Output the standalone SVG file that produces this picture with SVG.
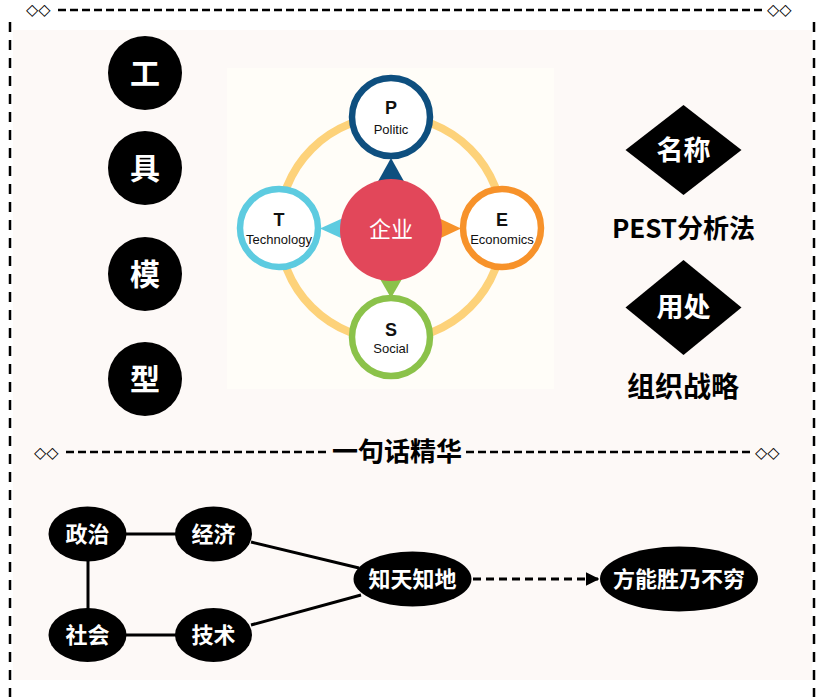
<svg xmlns="http://www.w3.org/2000/svg" width="828" height="697" viewBox="0 0 828 697">
<style>
.cjk{font-family:"Noto Sans CJK SC","Liberation Sans",sans-serif;font-weight:700;}
.wt{fill:#ffffff;}
.bk{fill:#000000;}
.dash{stroke:#000;stroke-width:2.5;stroke-dasharray:8 4;fill:none;}
.vdash{stroke:#000;stroke-width:2.5;stroke-dasharray:10 8;fill:none;}
.sym{font-family:"DejaVu Sans",sans-serif;font-size:16px;fill:#000;}
.conn{stroke:#000;stroke-width:3;fill:none;}
.lat{font-family:"Liberation Sans",Arial,sans-serif;fill:#111;text-anchor:middle;}
</style>
<defs>
<marker id="ah" viewBox="0 0 10 10" refX="9" refY="5" markerWidth="4.5" markerHeight="4.5" orient="auto" markerUnits="strokeWidth">
<path d="M0,0 L10,5 L0,10 z" fill="#000"/>
</marker>
</defs>
<rect x="0" y="0" width="828" height="697" fill="#ffffff"/>
<rect x="13" y="30" width="799" height="650" fill="#fdf9f7"/>
<!-- frame -->
<g id="frame">
<text class="sym" x="26" y="15">◇◇</text>
<line class="dash" x1="58" y1="10" x2="763" y2="10"/>
<text class="sym" x="767" y="15">◇◇</text>
<line class="vdash" x1="10" y1="22" x2="10" y2="697"/>
<line class="vdash" x1="814" y1="22" x2="814" y2="697"/>
</g>
<!-- left circles -->
<g id="c-gong"><circle cx="145" cy="73" r="37" class="bk"/><text x="145" y="84" class="cjk wt" font-size="30" text-anchor="middle">工</text></g>
<g id="c-ju"><circle cx="145" cy="168" r="37" class="bk"/><text x="145" y="179" class="cjk wt" font-size="30" text-anchor="middle">具</text></g>
<g id="c-mo"><circle cx="145" cy="274" r="37" class="bk"/><text x="145" y="285" class="cjk wt" font-size="30" text-anchor="middle">模</text></g>
<g id="c-xing"><circle cx="145" cy="379" r="37" class="bk"/><text x="145" y="390" class="cjk wt" font-size="30" text-anchor="middle">型</text></g>
<!-- PEST figure -->
<g id="pest">
<rect x="227" y="68" width="327" height="321" fill="#fffdf8"/>
<circle cx="391" cy="228" r="112" fill="none" stroke="#fdd27a" stroke-width="8"/>
<polygon points="376,185 406,185 391,158" fill="#0e4f7f"/>
<polygon points="430,214 430,243 461,228.5" fill="#f7922a"/>
<polygon points="376,272 406,272 391,298" fill="#8bc24a"/>
<polygon points="352,214 352,243 320,228.5" fill="#5dcbe0"/>
<circle cx="391" cy="230" r="51" fill="#e2475a"/>
<text x="391" y="237" font-family="Liberation Serif,Noto Sans CJK SC,serif" font-size="22" fill="#ffffff" text-anchor="middle">企业</text>
</g>
<g id="node-p"><circle cx="391" cy="117" r="39" fill="#fff" stroke="#0e4f7f" stroke-width="6.5"/><text class="lat" x="391" y="114" font-size="18" font-weight="700">P</text><text class="lat" x="391" y="134" font-size="13">Politic</text></g>
<g id="node-t"><circle cx="279" cy="228" r="39" fill="#fff" stroke="#5dcbe0" stroke-width="6.5"/><text class="lat" x="279" y="226" font-size="18" font-weight="700">T</text><text class="lat" x="279" y="244" font-size="13">Technology</text></g>
<g id="node-e"><circle cx="502" cy="228" r="39" fill="#fff" stroke="#f7922a" stroke-width="6.5"/><text class="lat" x="502" y="226" font-size="18" font-weight="700">E</text><text class="lat" x="502" y="244" font-size="13">Economics</text></g>
<g id="node-s"><circle cx="391" cy="337" r="39" fill="#fff" stroke="#8bc24a" stroke-width="6.5"/><text class="lat" x="391" y="336" font-size="18" font-weight="700">S</text><text class="lat" x="391" y="353" font-size="13">Social</text></g>
<!-- right side -->
<g id="d-name"><polygon points="683.5,105 741.5,150 683.5,195 625.5,150" class="bk"/><text x="683.5" y="160" class="cjk wt" font-size="27" text-anchor="middle">名称</text></g>
<g id="t-pest"><text x="683.5" y="238" class="cjk bk" font-size="26" text-anchor="middle">PEST分析法</text></g>
<g id="d-use"><polygon points="683.5,260 741.5,307.5 683.5,355 625.5,307.5" class="bk"/><text x="683.5" y="317" class="cjk wt" font-size="27" text-anchor="middle">用处</text></g>
<g id="t-use"><text x="683" y="397" class="cjk bk" font-size="28" text-anchor="middle">组织战略</text></g>
<!-- separator -->
<g id="sep">
<text class="sym" x="34" y="458">◇◇</text>
<line class="dash" x1="66" y1="452" x2="328" y2="452"/>
<text x="397" y="461" class="cjk bk" font-size="26" text-anchor="middle">一句话精华</text>
<line class="dash" x1="466" y1="452" x2="752" y2="452"/>
<text class="sym" x="755" y="458">◇◇</text>
</g>
<!-- connectors -->
<g id="connectors">
<line class="conn" x1="126" y1="534" x2="176" y2="534"/>
<line class="conn" x1="88" y1="561" x2="88" y2="609"/>
<line class="conn" x1="126" y1="635" x2="176" y2="635"/>
<line class="conn" x1="251" y1="542" x2="359" y2="568"/>
<line class="conn" x1="251" y1="625" x2="361" y2="595"/>
<line x1="473" y1="579" x2="598" y2="579" stroke="#000" stroke-width="3" stroke-dasharray="8 5" marker-end="url(#ah)"/>
</g>
<!-- bottom nodes -->
<g id="n-zz"><ellipse cx="87.5" cy="534" rx="39" ry="27.5" class="bk"/><text x="87.5" y="542" class="cjk wt" font-size="22" text-anchor="middle">政治</text></g>
<g id="n-jj"><ellipse cx="213.5" cy="534" rx="38.5" ry="27.5" class="bk"/><text x="213.5" y="542" class="cjk wt" font-size="22" text-anchor="middle">经济</text></g>
<g id="n-sh"><ellipse cx="87.5" cy="635" rx="39" ry="27" class="bk"/><text x="87.5" y="643" class="cjk wt" font-size="22" text-anchor="middle">社会</text></g>
<g id="n-js"><ellipse cx="213.5" cy="635" rx="38.5" ry="27" class="bk"/><text x="213.5" y="643" class="cjk wt" font-size="22" text-anchor="middle">技术</text></g>
<g id="n-ztzd"><ellipse cx="412.5" cy="579" rx="59" ry="27.5" class="bk"/><text x="412.5" y="587" class="cjk wt" font-size="22" text-anchor="middle">知天知地</text></g>
<g id="n-fn"><ellipse cx="679" cy="579" rx="79" ry="32.5" class="bk"/><text x="679" y="587" class="cjk wt" font-size="22" text-anchor="middle">方能胜乃不穷</text></g>
</svg>
